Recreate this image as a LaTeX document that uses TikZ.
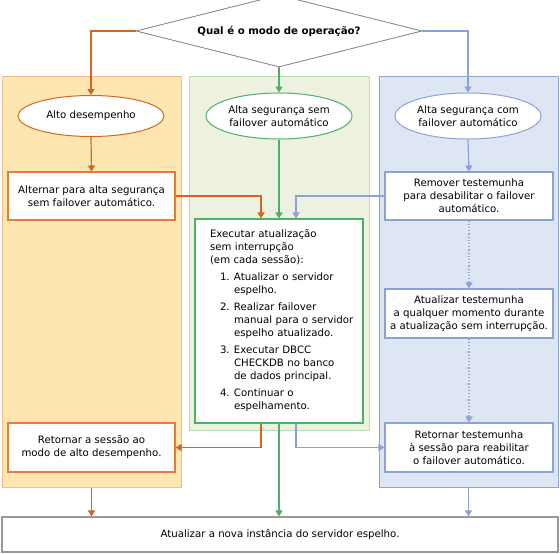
\documentclass[tikz,border=0pt]{standalone}
\usepackage{fontspec}
\setmainfont{DejaVu Sans}
\usetikzlibrary{shapes.geometric,arrows.meta}
\definecolor{oline}{HTML}{D5651E}
\definecolor{ofill}{HTML}{FEE6B1}
\definecolor{oborder}{HTML}{F4BF8C}
\definecolor{obox}{HTML}{E07F3C}
\definecolor{gline}{HTML}{4FAE68}
\definecolor{gfill}{HTML}{ECF1E0}
\definecolor{gborder}{HTML}{BADDB4}
\definecolor{bline}{HTML}{8AA2D6}
\definecolor{bfill}{HTML}{DFE6F3}
\definecolor{bborder}{HTML}{8FA7D8}
\tikzset{
  txt/.style={font=\fontsize{10.2}{13}\selectfont},
  panel/.style={draw, line width=1pt, inner sep=0pt},
  stepbox/.style={draw, fill=white, line width=1.05pt, txt, align=center, inner sep=0pt, minimum width=167pt, minimum height=48pt},
  oval/.style={ellipse, draw, fill=white, line width=1pt, txt, align=center, inner xsep=-20pt, inner ysep=-5pt, minimum width=146pt},
  arr/.style={line width=1.2pt, -{Triangle[width=7pt,length=6pt]}},
}
\begin{document}
\begin{tikzpicture}[x=1pt,y=-1pt]
\useasboundingbox (0,0) rectangle (560,554);
% panels
\node[panel, draw=oborder, fill=ofill, minimum width=179pt, minimum height=411pt] (po) at (91.5,281.5) {};
\node[panel, draw=gborder, fill=gfill, minimum width=180pt, minimum height=354pt] (pg) at (279,253) {};
\node[panel, draw=bborder, fill=bfill, minimum width=179pt, minimum height=411pt] (pb) at (468.5,281.5) {};
% decision
\node[diamond, draw=gray, fill=white, line width=0.8pt, inner sep=0pt, shape aspect=4,
  minimum width=286pt, minimum height=72pt, font=\fontsize{10.2}{12}\selectfont\bfseries] (q) at (279,31) {Qual é o modo de operação?};
% ovals
\node[oval, draw=oline, minimum height=41pt] (ae) at (91,116) {Alto desempenho};
\node[oval, draw=gline, minimum height=46pt] (as) at (279,116) {Alta segurança sem\\failover automático};
\node[oval, draw=bline, minimum height=46pt] (ac) at (468,116) {Alta segurança com\\failover automático};
% boxes
\node[stepbox, draw=obox] (alt) at (91.5,196) {Alternar para alta segurança\\sem failover automático.};
\node[stepbox, draw=bline, minimum width=168pt] (rem) at (469,196) {Remover testemunha\\para desabilitar o failover\\automático.};
\node[stepbox, draw=bline, minimum width=168pt, minimum height=49pt] (att) at (469,313.5) {Atualizar testemunha\\a qualquer momento durante\\a atualização sem interrupção.};
\node[stepbox, draw=obox, minimum height=49pt] (ret1) at (91.5,447.5) {Retornar a sessão ao\\modo de alto desempenho.};
\node[stepbox, draw=bline, minimum width=168pt, minimum height=49pt] (ret2) at (469,447.5) {Retornar testemunha\\à sessão para reabilitar\\o failover automático.};
\node[draw=gline, fill=white, line width=1.05pt, txt, text width=162pt, align=left, inner xsep=3pt, inner ysep=0pt,
  minimum width=168pt, minimum height=204pt] (exec) at (279,321) {%
\hspace*{12pt}Executar atualização\\
\hspace*{12pt}sem interrupção\\
\hspace*{12pt}(em cada sessão):\\[4pt]
\hspace*{22pt}\makebox[14pt][l]{1.}Atualizar o servidor\\
\hspace*{36pt}espelho.\\[4pt]
\hspace*{22pt}\makebox[14pt][l]{2.}Realizar failover\\
\hspace*{36pt}manual para o servidor\\
\hspace*{36pt}espelho atualizado.\\[4pt]
\hspace*{22pt}\makebox[14pt][l]{3.}Executar DBCC\\
\hspace*{36pt}CHECKDB no banco\\
\hspace*{36pt}de dados principal.\\[4pt]
\hspace*{22pt}\makebox[14pt][l]{4.}Continuar o\\
\hspace*{36pt}espelhamento.};
\node[draw=gray!80, fill=white, line width=1.05pt, txt, inner sep=0pt, minimum width=556pt, minimum height=35pt] (fin) at (280,534.5) {Atualizar a nova instância do servidor espelho.};
% connectors
\draw[arr, oline] (q.west) -| (ae.north);
\draw[arr, gline] (q.south) -- (as.north);
\draw[arr, bline] (q.east) -| (ac.north);
\draw[arr, oline] (ae.south) -- (alt.north);
\draw[arr, gline] (as.south) -- (exec.north);
\draw[arr, bline] (ac.south) -- (rem.north);
\draw[arr, oline] (alt.east) -| ([xshift=-18pt]exec.north);
\draw[arr, bline] (rem.west) -| ([xshift=17pt]exec.north);
\draw[arr, bline, dotted] (rem.south) -- (att.north);
\draw[arr, bline, dotted] (att.south) -- (ret2.north);
\draw[arr, oline] ([xshift=-18pt]exec.south) |- (ret1.east);
\draw[arr, bline] ([xshift=17pt]exec.south) |- (ret2.west);
\draw[arr, gline] (exec.south) -- (exec.south |- fin.north);
\draw[arr, oline] (po.south) -- (po.south |- fin.north);
\draw[arr, bline] (pb.south) -- (pb.south |- fin.north);
\end{tikzpicture}
\end{document}
